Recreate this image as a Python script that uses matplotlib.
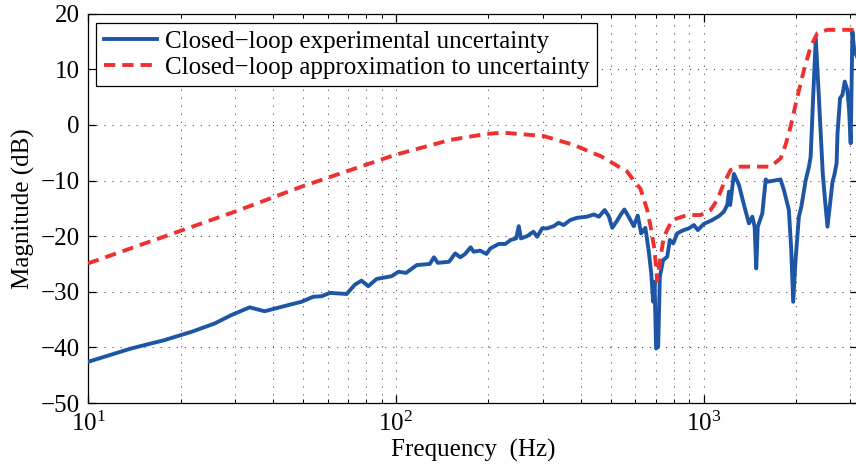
import matplotlib
matplotlib.use("Agg")
import matplotlib.pyplot as plt
from matplotlib.ticker import LogLocator, NullFormatter, FixedLocator

plt.rcParams["font.family"] = ["Liberation Serif", "DejaVu Serif"]
plt.rcParams["mathtext.fontset"] = "stix"
plt.rcParams["axes.unicode_minus"] = True

# Closed-loop experimental uncertainty (measured)
freq_exp = [10, 13.8, 17.7, 21.7, 25.8, 29.2, 33.5, 37.5, 44.7, 49.4, 53.9, 57.4,
            61.1, 69.2, 73.7, 77.4, 81.4, 86.6, 96.9, 102, 108, 117, 129, 133,
            137, 149, 156, 162, 168, 175, 179, 188, 197, 203, 216, 227, 236, 246,
            251, 255, 267, 280, 288, 299, 310, 326, 338, 351, 369, 388, 418, 440,
            457, 477, 492, 505, 524, 537, 553, 571, 593, 611, 627, 647, 664, 676,
            686, 693, 701, 712, 721, 739, 762, 777, 797, 821, 862, 896, 930, 958,
            1002, 1067, 1121, 1164, 1194, 1209, 1220, 1255, 1303, 1353, 1404, 1440,
            1465, 1483, 1500, 1552, 1592, 1620, 1700, 1778, 1824, 1893, 1927, 1955,
            1990, 2040, 2078, 2146, 2200, 2228, 2268, 2315, 2372, 2439, 2486, 2527,
            2576, 2624, 2660, 2705, 2724, 2776, 2826, 2875, 2932, 2970, 3006, 3045,
            3085, 3150]
mag_exp = [-42.6, -40.2, -38.7, -37.2, -35.7, -34.2, -32.8, -33.5, -32.4, -31.8,
           -30.9, -30.8, -30.2, -30.4, -28.7, -28.0, -29.0, -27.7, -27.2, -26.4,
           -26.6, -25.2, -25.0, -23.8, -24.8, -24.6, -23.1, -23.8, -23.2, -22.0,
           -22.8, -22.6, -23.2, -22.2, -21.4, -21.4, -20.7, -20.4, -18.2, -20.4,
           -20.0, -19.2, -20.1, -18.6, -18.6, -18.2, -17.6, -18.0, -17.1, -16.7,
           -16.5, -16.1, -16.5, -15.3, -16.4, -18.5, -17.2, -16.2, -15.2, -16.5,
           -18.2, -16.3, -19.5, -18.5, -22.8, -26.7, -31.8, -28.2, -40.2, -39.9,
           -27.3, -24.3, -23.7, -20.7, -21.3, -19.5, -18.9, -18.6, -18.0, -18.9,
           -17.8, -17.1, -16.4, -15.6, -14.4, -12.0, -14.4, -8.8, -10.8, -14.4,
           -17.7, -16.5, -18.3, -25.8, -18.3, -15.9, -9.8, -10.2, -10.0, -9.8,
           -11.7, -15.3, -22.5, -31.8, -24.3, -16.5, -14.7, -10.0, -7.5, -5.7,
           4.5, 15.6, 4.5, -8.7, -14.1, -18.3, -14.1, -10.2, -9.0, -6.9, -1.5,
           4.8, 5.4, 7.8, 6.3, 2.7, -3.3, 16.8, 13.5, 12.3]

# Closed-loop approximation to uncertainty (model)
freq_apx = [10, 19.6, 30, 49.4, 99.3, 137, 150, 198, 224, 236, 302, 379, 439, 463,
            565, 593, 624, 656, 673, 693, 707, 725, 743, 791, 885, 978, 1054, 1107,
            1164, 1224, 1319, 1651, 1780, 1849, 1918, 2018, 2120, 2228, 2343, 2525,
            3150]
mag_apx = [-24.9, -19.2, -15.6, -11.1, -5.4, -3.3, -2.7, -1.6, -1.4, -1.5, -2.0,
           -3.6, -5.1, -5.6, -8.4, -10.0, -11.5, -15.3, -18.3, -22.5, -28.0, -23.7,
           -20.1, -17.1, -16.2, -16.2, -15.3, -13.5, -10.5, -8.1, -7.5, -7.5, -6.0,
           -3.5, -0.3, 5.1, 9.9, 14.1, 16.5, 17.1, 17.1]

y_ticks = [20, 10, 0, -10, -20, -30, -40, -50]

W, H = 856, 473
fig = plt.figure(figsize=(W / 100, H / 100), dpi=100)
left, right, top, bottom = 88, 858, 13.7, 403
ax = fig.add_axes([left / W, 1 - bottom / H, (right - left) / W, (bottom - top) / H])

ax.semilogx(freq_exp, mag_exp, color="#1F55A5", lw=2.8,
            solid_joinstyle="round",
            label="Closed\u2212loop experimental uncertainty", zorder=3)
ax.semilogx(freq_apx, mag_apx, color="#EE3030", lw=2.8, dashes=(2.9, 1.8),
            dash_capstyle="butt",
            label="Closed\u2212loop approximation to uncertainty", zorder=4)

ax.set_xlim(10, 3175)
ax.set_ylim(-50, 20)
ax.yaxis.set_major_locator(FixedLocator(y_ticks))
ax.xaxis.set_major_locator(LogLocator(base=10))
ax.xaxis.set_minor_locator(LogLocator(base=10, subs=range(2, 10)))
ax.xaxis.set_minor_formatter(NullFormatter())

grid_kw = dict(color="0.25", linestyle=(0, (1, 6.7)), linewidth=0.75)
ax.grid(True, which="major", axis="both", **grid_kw)
ax.grid(True, which="minor", axis="x", **grid_kw)

ax.tick_params(which="both", direction="in", top=True, right=True,
               labelsize=18, pad=6)
ax.tick_params(which="major", length=6, width=0.9)
ax.tick_params(which="minor", length=3, width=0.7)
for s in ax.spines.values():
    s.set_linewidth(0.9)

ax.set_xlabel("Frequency  (Hz)", fontsize=18, labelpad=2)
ax.set_ylabel("Magnitude (dB)", fontsize=18, labelpad=4)

leg = ax.legend(loc="upper left", bbox_to_anchor=(8 / 770, 1 - 9 / 389),
                borderaxespad=0, fontsize=18, frameon=True, fancybox=False,
                edgecolor="black", framealpha=1, handlelength=2.15,
                handletextpad=0.3, labelspacing=0.15, borderpad=0.3)
leg.get_frame().set_linewidth(0.9)

fig.savefig("out.png", dpi=100)
